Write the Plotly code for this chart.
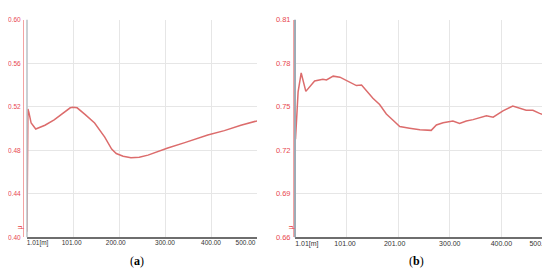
import plotly.graph_objects as go

# ---- data (a) ----
xa = [1, 3, 5, 10, 20, 40, 60, 80, 95, 101, 110, 127, 148, 170, 185, 195, 210, 227, 245, 264, 285, 307, 344, 394, 430, 466, 501]
ya = [0.405, 0.518, 0.515, 0.505, 0.4995, 0.503, 0.508, 0.514, 0.519, 0.5195, 0.519, 0.513, 0.505, 0.492, 0.481, 0.477, 0.4745, 0.473, 0.4735, 0.4755, 0.479, 0.482, 0.487, 0.494, 0.498, 0.503, 0.507]

# ---- data (b) ----
xb = [2, 7, 13, 22, 39, 55, 62, 75, 88, 94, 107, 120, 130, 139, 152, 165, 178, 191, 204, 223, 243, 265, 275, 288, 307, 320, 333, 346, 359, 372, 385, 404, 423, 436, 449, 462, 475, 488, 501]
yb = [0.7276, 0.7602, 0.7733, 0.7606, 0.7678, 0.7689, 0.7685, 0.7711, 0.7704, 0.7694, 0.7672, 0.7646, 0.7650, 0.7613, 0.7559, 0.7515, 0.7450, 0.7407, 0.7363, 0.7352, 0.7341, 0.7337, 0.7374, 0.7389, 0.7402, 0.7385, 0.7402, 0.7411, 0.7424, 0.7437, 0.7428, 0.7472, 0.7505, 0.7493, 0.7476, 0.7476, 0.7454, 0.7439, 0.7400]

# ---- ticks ----
x_grid = [1, 101, 201, 301, 401, 501]
x_label_pos = [24, 98, 194, 301, 401, 476]
xa_labels = ["1.01[m]", "101.00", "200.00", "300.00", "400.00", "500.00"]
xb_labels = ["1.01[m]", "101.00", "201.00", "300.00", "400.00", "500.00"]
ya_ticks = [0.40, 0.44, 0.48, 0.52, 0.56, 0.60]
ya_labels = ["0.40", "0.44", "0.48", "0.52", "0.56", "0.60"]
yb_ticks = [0.66, 0.69, 0.72, 0.75, 0.78, 0.81]
yb_labels = ["0.66", "0.69", "0.72", "0.75", "0.78", "0.81"]

W, H = 550, 270
LINE = "#dc6c6c"
RED = "#e8474f"
GRID = "#e6e6e6"
SANS = "Liberation Sans, Arial"

fig = go.Figure()
fig.add_trace(go.Scatter(x=xa, y=ya, mode="lines", line=dict(color=LINE, width=1.5),
                         xaxis="x", yaxis="y", hoverinfo="skip"))
fig.add_trace(go.Scatter(x=xb, y=yb, mode="lines", line=dict(color=LINE, width=1.5),
                         xaxis="x2", yaxis="y2", hoverinfo="skip"))

ydom = [1 - 233 / H, 1 - 8 / H]


def xaxis_cfg(dom, labels, fsize):
    return dict(domain=dom, range=[1, 501], tickmode="array", tickvals=x_label_pos, ticktext=labels,
                showgrid=False, zeroline=False, ticks="",
                minor=dict(tickmode="array", tickvals=x_grid, showgrid=True, gridcolor=GRID, gridwidth=1, ticks=""),
                showline=True, linecolor="#6e6e6e", linewidth=2,
                tickfont=dict(family=SANS, size=fsize, color="#333333"),
                ticklabelstandoff=-2, fixedrange=True)


def yaxis_cfg(rng, ticks, labels, pos, fsize):
    return dict(domain=ydom, range=rng, tickmode="array", tickvals=ticks, ticktext=labels,
                showgrid=True, gridcolor=GRID, gridwidth=1, zeroline=False, ticks="",
                anchor="free", position=pos, showline=True, linecolor="#f3a3a3", linewidth=1,
                tickfont=dict(family=SANS, size=fsize, color=RED),
                ticklabelstandoff=1, fixedrange=True)


fig.update_layout(
    width=W, height=H, margin=dict(l=0, r=0, t=0, b=0),
    paper_bgcolor="white", plot_bgcolor="white", showlegend=False,
    xaxis=dict(anchor="y", **xaxis_cfg([19 / W, 249 / W], xa_labels, 6.5)),
    yaxis=yaxis_cfg([0.40, 0.60], ya_ticks, ya_labels, 15 / W, 6.5),
    xaxis2=dict(anchor="y2", **xaxis_cfg([287 / W, 545 / W], xb_labels, 7)),
    yaxis2=yaxis_cfg([0.66, 0.81], yb_ticks, yb_labels, 285 / W, 7.5),
)

# grey frame line at left edge of each plot area
fig.add_shape(type="line", xref="x domain", yref="y domain", x0=0, x1=0, y0=0, y1=1,
              line=dict(color="#b9c0c6", width=1.5))
fig.add_shape(type="line", xref="x2 domain", yref="y2 domain", x0=0, x1=0, y0=0, y1=1,
              line=dict(color="#9eabb6", width=2))

# mu symbols
for xp in (12, 283):
    fig.add_annotation(x=xp / W, y=1 - 223 / H, xref="paper", yref="paper", text="μ",
                       showarrow=False, textangle=-90, xanchor="center", yanchor="middle",
                       font=dict(family=SANS, size=7, color=RED))

# captions
for xp, txt in ((129, "(<b>a</b>)"), (408, "(<b>b</b>)")):
    fig.add_annotation(x=xp / W, y=1 - 258 / H, xref="paper", yref="paper", text=txt,
                       showarrow=False, xanchor="center", yanchor="middle",
                       font=dict(family="Liberation Serif, Times New Roman, serif", size=12, color="black"))

fig.write_html("out.html")
